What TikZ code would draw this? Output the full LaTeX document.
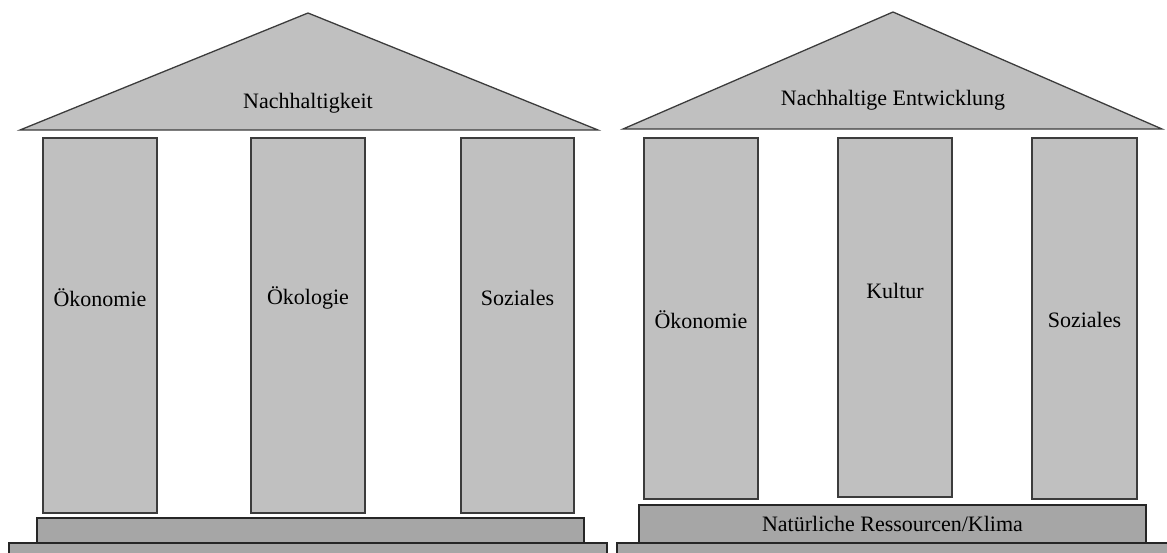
\documentclass[tikz,border=0pt]{standalone}
\usepackage{fontspec}
\setmainfont{Liberation Serif}
\usepackage{tikz}
\usetikzlibrary{positioning}
\definecolor{pillargray}{RGB}{192,192,192}
\definecolor{plinthgray}{RGB}{166,166,166}
\definecolor{edgegray}{RGB}{60,60,60}

\begin{document}
\begin{tikzpicture}[x=1pt,y=-1pt,
	pillar/.style={
		rectangle,
		draw=edgegray,
		line width=1.3pt,
		fill=pillargray,
		inner sep=0pt,
		minimum width=114pt},
	plinth/.style={
		rectangle,
		draw=black!85,
		line width=1.3pt,
		fill=plinthgray,
		inner sep=0pt},
	roof/.style={
		draw=edgegray,
		line width=1.3pt,
		fill=pillargray},
	txt/.style={
		inner sep=0pt,
		font=\fontsize{22}{26}\selectfont}]

    \useasboundingbox (0,0) rectangle (1167,552);

    % Left temple: plinths
    \node [plinth, minimum width=598pt, minimum height=22pt] (baseA) at (308,554) {};
    \node [plinth, minimum width=547pt, minimum height=25pt] (stepA) at (310.5,530.5) {};
    % Left temple: pillars
    \node [pillar, minimum height=375pt] (oekonA) at (100,325.5) {};
    \node [pillar, minimum height=375pt] (oekolA) at (308,325.5) {};
    \node [pillar, minimum height=375pt, minimum width=113pt] (sozA) at (517.5,325.5) {};
    \node [txt] at (100,298) {Ökonomie};
    \node [txt] at (308,298) {Ökologie};
    \node [txt] at (517.5,298) {Soziales};
    % Left temple: roof
    \coordinate (roofAl) at (20,130);
    \coordinate (roofAt) at (308,13);
    \coordinate (roofAr) at (598,130);
    \path [roof] (roofAl) -- (roofAt) -- (roofAr) -- cycle;
    \node [txt] (titleA) at (308,103) {Nachhaltigkeit};

    % Right temple: plinths
    \node [plinth, minimum width=563pt, minimum height=22pt] (baseB) at (898.5,554) {};
    \node [plinth, minimum width=507pt, minimum height=38pt] (stepB) at (892.5,524) {};
    \node [txt] at (892.5,524) {Natürliche Ressourcen/Klima};
    % Right temple: pillars
    \node [pillar, minimum height=361pt] (oekonB) at (701,318.5) {};
    \node [pillar, minimum height=359pt] (kultB) at (895,317.5) {};
    \node [pillar, minimum height=361pt, minimum width=105pt] (sozB) at (1084.5,318.5) {};
    \node [txt] at (701,320) {Ökonomie};
    \node [txt] at (895,291) {Kultur};
    \node [txt] at (1084.5,320) {Soziales};
    % Right temple: roof
    \coordinate (roofBl) at (623,129);
    \coordinate (roofBt) at (893,12);
    \coordinate (roofBr) at (1162,129);
    \path [roof] (roofBl) -- (roofBt) -- (roofBr) -- cycle;
    \node [txt] (titleB) at (893,100) {Nachhaltige Entwicklung};
\end{tikzpicture}
\end{document}
